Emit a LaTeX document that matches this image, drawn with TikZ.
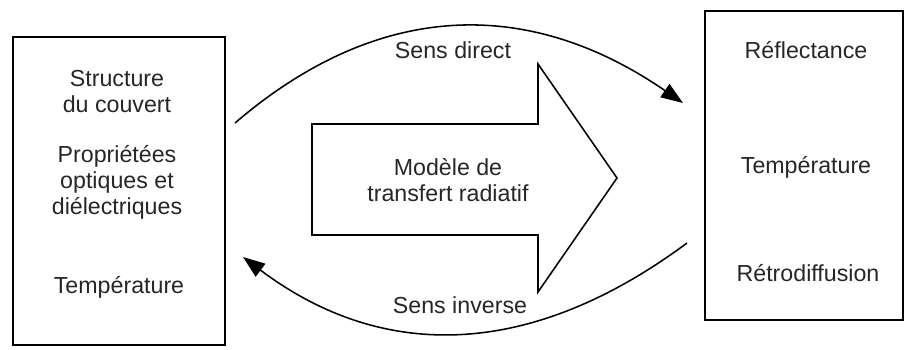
\documentclass[tikz,border=0pt]{standalone}
\usepackage{fontspec}
\setmainfont{Liberation Sans}
\usetikzlibrary{arrows.meta}

\begin{document}
\begin{tikzpicture}[x=0.025cm,y=-0.025cm]
		\tikzstyle{every node}=[font=\fontsize{16.5}{18.5}\selectfont,text=black!85]
		\tikzstyle{BoxStyle}=[draw,line width=1.1pt,inner sep=0pt]
		\tikzstyle{TextStyle}=[align=center,inner sep=1pt]
		\tikzstyle{EdgeStyle}=[line width=1.1pt,-{Triangle[length=5.5mm,width=4mm]}]
		\useasboundingbox (0,0) rectangle (907,349);
		% boites
		\node[BoxStyle,minimum width=5.3cm,minimum height=7.7cm] (entrees) at (119,191) {};
		\node[BoxStyle,minimum width=4.95cm,minimum height=7.72cm] (sorties) at (804,165.5) {};
		\node[TextStyle] (struct) at (117,92) {Structure\\du couvert};
		\node[TextStyle] (prop) at (117,182) {Propriétées\\optiques et\\diélectriques};
		\node[TextStyle] (tempA) at (119,287) {Température};
		\node[TextStyle] (refl) at (806,50) {Réflectance};
		\node[TextStyle] (tempB) at (806,167) {Température};
		\node[TextStyle] (retro) at (808,273) {Rétrodiffusion};
		% fleche du modele
		\draw[line width=1.1pt,line join=miter] (312,124) -- (538,124) -- (538,64) -- (617,178)
			-- (538,292) -- (538,235) -- (312,235) -- cycle;
		\node[TextStyle] (modele) at (448,180) {Modèle de\\transfert radiatif};
		% sens direct / inverse
		\coordinate (d1) at (235,123);
		\coordinate (d2) at (683,103);
		\coordinate (i1) at (687,243);
		\coordinate (i2) at (243,257);
		\draw[EdgeStyle] (d1) .. controls (376,2) and (526,-5) .. (d2);
		\draw[EdgeStyle] (i1) .. controls (532,358) and (384,363) .. (i2);
		\node[TextStyle] (direct) at (453,50) {Sens direct};
		\node[TextStyle] (inverse) at (460,305) {Sens inverse};
		%  \node at (448,20) {};
	\end{tikzpicture}
\end{document}
